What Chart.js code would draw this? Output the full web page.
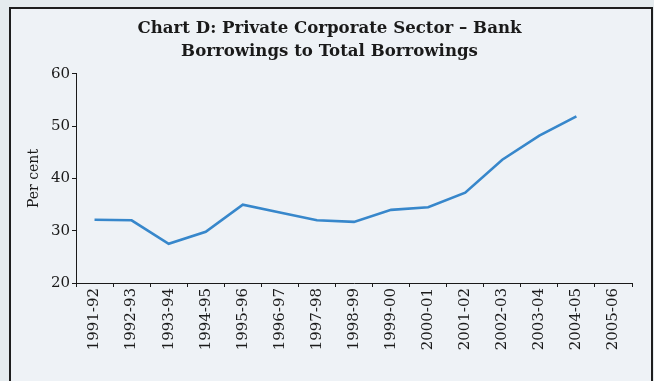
<!DOCTYPE html>
<html>
<head>
<meta charset="utf-8">
<script src="https://cdn.jsdelivr.net/npm/chart.js@4"></script>
<style>
  html, body {
    margin: 0;
    padding: 0;
    background: #e5ebee;
    width: 654px;
    height: 381px;
    overflow: hidden;
  }
  .box {
    position: absolute;
    left: 9px;
    top: 7px;
    width: 640px;
    height: 420px;
    border: 2px solid #1e1e1e;
    background: #eef2f6;
  }
  #chart {
    position: absolute;
    left: 0;
    top: 0;
  }
</style>
</head>
<body>
<div class="box"></div>
<canvas id="chart" width="654" height="381"></canvas>
<script>
// Share of bank borrowings in total borrowings of the private corporate sector
const years = [
  "1991-92", "1992-93", "1993-94", "1994-95", "1995-96",
  "1996-97", "1997-98", "1998-99", "1999-00", "2000-01",
  "2001-02", "2002-03", "2003-04", "2004-05", "2005-06",
];
const bankShare = [
  32.1, 32.0, 27.5, 29.8, 35.0,
  33.5, 32.0, 31.7, 34.0, 34.5,
  37.3, 43.6, 48.2, 51.9, null,
];
const titleLines = [
  "Chart D: Private Corporate Sector \u2013 Bank",
  "Borrowings to Total Borrowings",
];
const yMin = 20;
const yMax = 60;
const yStep = 10;

const serif = "'DejaVu Serif', serif";
const ink = "#1a1a1a";

Chart.defaults.color = ink;
Chart.defaults.font.family = serif;

const ctx = document.getElementById("chart").getContext("2d");
new Chart(ctx, {
  type: "line",
  data: {
    labels: years,
    datasets: [
      {
        label: "Bank borrowings",
        data: bankShare,
        borderColor: "#3787cb",
        borderWidth: 2.6,
        pointRadius: 0,
        tension: 0,
        fill: false,
      },
    ],
  },
  options: {
    responsive: false,
    animation: false,
    // side padding keeps the title centred inside the frame
    layout: {
      padding: { left: 27, right: 22, top: 0, bottom: 0 },
    },
    plugins: {
      legend: { display: false },
      tooltip: { enabled: false },
      title: {
        display: true,
        text: titleLines,
        color: ink,
        font: { family: serif, size: 16.6, weight: "bold", lineHeight: 1.37 },
        padding: { top: 17.5, bottom: 11 },
      },
    },
    scales: {
      x: {
        offset: true,
        afterFit: (scale) => {
          scale.height = 98;
        },
        border: { display: true, color: ink, width: 1 },
        grid: {
          display: true,
          offset: true,
          drawOnChartArea: false,
          drawTicks: true,
          tickLength: 4,
          color: ink,
        },
        ticks: {
          minRotation: 90,
          maxRotation: 90,
          autoSkip: false,
          padding: 1,
          font: { family: serif, size: 15 },
          color: ink,
        },
      },
      y: {
        min: yMin,
        max: yMax,
        afterFit: (scale) => {
          scale.width = 49;
        },
        border: { display: true, color: ink, width: 1 },
        grid: {
          display: true,
          drawOnChartArea: false,
          drawTicks: true,
          tickLength: 4,
          color: ink,
        },
        ticks: {
          stepSize: yStep,
          padding: 2,
          font: { family: serif, size: 15 },
          color: ink,
        },
        title: {
          display: true,
          text: "Per cent",
          color: ink,
          font: { family: serif, size: 14, lineHeight: 1 },
          padding: { top: 0, bottom: 0 },
        },
      },
    },
  },
});
</script>
</body>
</html>
